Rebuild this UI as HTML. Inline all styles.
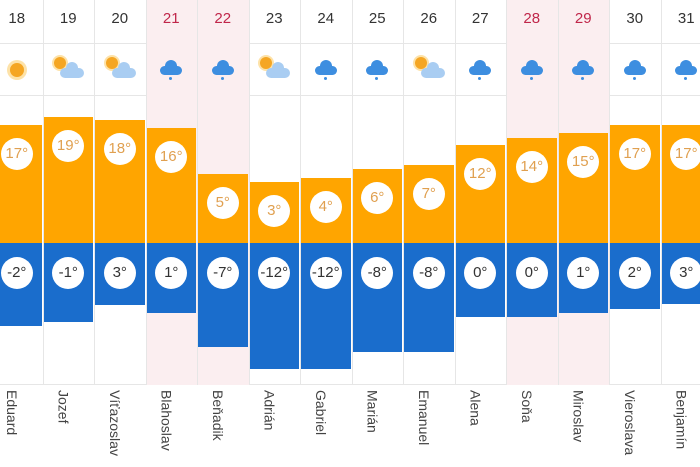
<!DOCTYPE html>
<html><head><meta charset="utf-8"><style>
body{margin:0;width:700px;height:467px;overflow:hidden;background:#fff;font-family:"Liberation Sans",sans-serif;position:relative}
.a{position:absolute}
.pink{background:#fbeef0}
.vl{position:absolute;top:0;height:385px;width:1px;background:#e6e6e6}
.d{position:absolute;top:10px;width:52px;text-align:center;font-size:15px;color:#333}
.o{position:absolute;background:#ffa500}
.b{position:absolute;background:#1a6dcc}
.c{position:absolute;width:32px;height:32px;border-radius:50%;background:#fff;text-align:center;line-height:32px;font-size:15px}
.n{position:absolute;top:390px;writing-mode:vertical-rl;font-size:14px;color:#444}
</style></head><body>
<div id="r"></div>
<script>
var dates=[18,19,20,21,22,23,24,25,26,27,28,29,30,31];
var pink=[3,4,10,11];
var tops=[125,117,120,128,174,182,178,169,165,145,138,133,125,125];
var bots=[326,322,305,313,347,369,369,352,352,317,317,313,309,304];
var hi=[17,19,18,16,5,3,4,6,7,12,14,15,17,17];
var lo=[-2,-1,3,1,-7,-12,-12,-8,-8,0,0,1,2,3];
var names=["Eduard","Jozef","Víťazoslav","Blahoslav","Beňadik","Adrián","Gabriel","Marián","Emanuel","Alena","Soňa","Miroslav","Vieroslava","Benjamín"];
var ic=["s","p","p","r","r","p","r","r","p","r","r","r","r","r"];
var h="";
h+='<div class="a" style="left:0;top:43px;width:700px;height:1px;background:#e6e6e6"></div>';
h+='<div class="a" style="left:0;top:95px;width:700px;height:1px;background:#e6e6e6"></div>';
h+='<div class="a" style="left:0;top:384px;width:700px;height:1px;background:#e6e6e6"></div>';
for(var i=0;i<14;i++){
 var L=-9+51.5*i, cx=L+25.75;
 if(pink.indexOf(i)>=0) h+='<div class="a pink" style="left:'+L+'px;top:0;width:51.5px;height:385px"></div>';
}
for(var i=0;i<=14;i++){h+='<div class="vl" style="left:'+(-9+51.5*i)+'px"></div>';}
for(var i=0;i<14;i++){
 var L=-9+51.5*i, cx=L+25.75;
 var red=pink.indexOf(i)>=0;
 h+='<div class="d" style="left:'+(cx-26)+'px;color:'+(red?'#c0264a':'#333')+'">'+dates[i]+'</div>';
 // icons
 var y=70;
 if(ic[i]=="s"){h+='<div class="a" style="left:'+(cx-7)+'px;top:'+(y-7)+'px;width:14px;height:14px;border-radius:50%;background:#f5a623;box-shadow:0 0 0 3px #fde2a8"></div>';}
 else if(ic[i]=="p"){h+='<div class="a" style="left:'+(cx-14)+'px;top:'+(y-13)+'px;width:12px;height:12px;border-radius:50%;background:#f5a623;box-shadow:0 0 0 2px #fde2a8"></div>';
  h+='<div class="a" style="left:'+(cx-8)+'px;top:'+(y-2)+'px;width:24px;height:10px;border-radius:5px;background:#a9cdf2"></div><div class="a" style="left:'+(cx-2)+'px;top:'+(y-8)+'px;width:12px;height:12px;border-radius:50%;background:#a9cdf2"></div>';}
 else {h+='<div class="a" style="left:'+(cx-11)+'px;top:'+(y-4)+'px;width:22px;height:9px;border-radius:5px;background:#3d8ee0"></div><div class="a" style="left:'+(cx-6)+'px;top:'+(y-10)+'px;width:12px;height:12px;border-radius:50%;background:#3d8ee0"></div><div class="a" style="left:'+(cx-2)+'px;top:'+(y+7)+'px;width:3px;height:3px;border-radius:50%;background:#3d8ee0"></div>';}
 h+='<div class="o" style="left:'+(L+1)+'px;top:'+tops[i]+'px;width:49.5px;height:'+(243-tops[i])+'px"></div>';
 h+='<div class="b" style="left:'+(L+1)+'px;top:243px;width:49.5px;height:'+(bots[i]-243)+'px"></div>';
 h+='<div class="c" style="left:'+(cx-16)+'px;top:'+(tops[i]+13)+'px;color:#e0a050">'+hi[i]+'°</div>';
 h+='<div class="c" style="left:'+(cx-16)+'px;top:257px;color:#333">'+lo[i]+'°</div>';
 h+='<div class="n" style="left:'+(cx-13)+'px">'+names[i]+'</div>';
}
document.getElementById('r').innerHTML=h;
</script>
</body></html>
